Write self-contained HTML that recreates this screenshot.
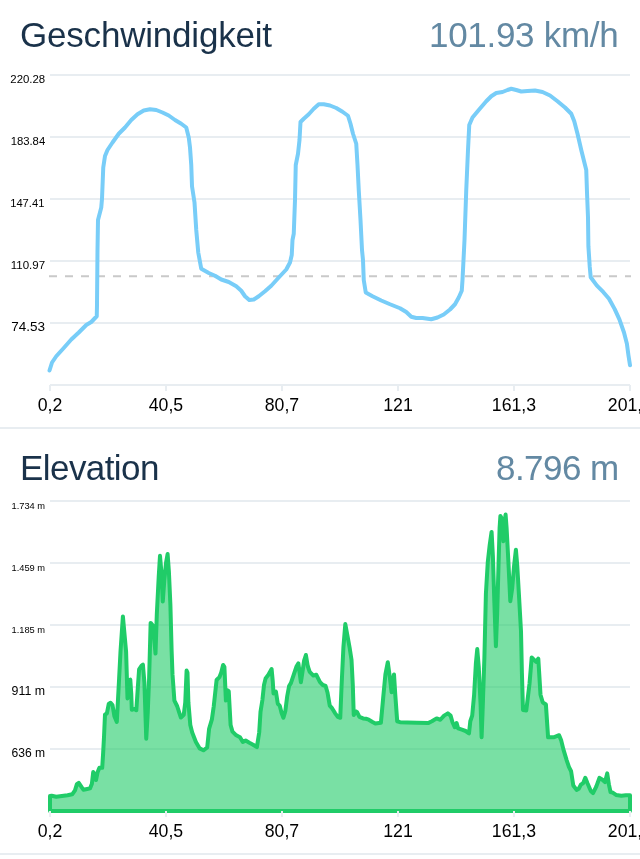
<!DOCTYPE html>
<html><head><meta charset="utf-8">
<style>
html,body{margin:0;padding:0;background:#fff;width:640px;height:859px;overflow:hidden;font-family:"Liberation Sans",sans-serif;}
.t{position:absolute;white-space:nowrap;line-height:1;}
.title{font-size:35px;color:#1a324a;}
.val{font-size:35px;color:#6389a3;}
svg{position:absolute;left:0;top:0;will-change:transform;}
.t{will-change:transform;}
</style></head><body>
<div class="t title" id="t1" style="left:19.8px;top:17px;letter-spacing:-0.2px;">Geschwindigkeit</div>
<div class="t val" id="v1" style="left:429.3px;top:17px;letter-spacing:-0.3px;">101.93 km/h</div>
<div class="t title" id="t2" style="left:20px;top:450px;letter-spacing:-0.57px;">Elevation</div>
<div class="t val" id="v2" style="left:496px;top:450px;letter-spacing:-0.55px;">8.796 m</div>
<svg width="640" height="859" viewBox="0 0 640 859">
<g stroke="#e8edf1" stroke-width="2" fill="none">
<path d="M50 75H630M50 137H630M50 199H630M50 261H630M50 323H630M50 385H630"/>
<path d="M50 385V391M166 385V391M282 385V391M398 385V391M514 385V391M630 385V391"/>
<path d="M0 428H640"/>
<path d="M50 501H630M50 563H630M50 625H630M50 687H630M50 749H630M50 811H630"/>
<path d="M0 854H640"/>
</g>
<path d="M49 276.3H631" stroke="#c9c9c9" stroke-width="2" stroke-dasharray="8 8"/>
<g font-family="Liberation Sans" fill="#000" text-anchor="end">
<text x="45.2" y="83.1" font-size="11.4">220.28</text>
<text x="45.2" y="145.2" font-size="11.3">183.84</text>
<text x="44.4" y="207" font-size="11.2">147.41</text>
<text x="45.1" y="268.8" font-size="11.5">110.97</text>
<text x="45" y="331" font-size="13.5">74.53</text>
<text x="45.1" y="508.8" font-size="9.3">1.734 m</text>
<text x="45.1" y="571.1" font-size="9.3">1.459 m</text>
<text x="45.1" y="633.3" font-size="9.3">1.185 m</text>
<text x="45.1" y="695" font-size="12.4">911 m</text>
<text x="45.1" y="756.8" font-size="12.1">636 m</text>
</g>
<g font-family="Liberation Sans" fill="#000" text-anchor="middle" font-size="17.7">
<text x="50" y="410.8">0,2</text>
<text x="166" y="410.8">40,5</text>
<text x="282" y="410.8">80,7</text>
<text x="398" y="410.8">121</text>
<text x="514" y="410.8">161,3</text>
<text x="630" y="410.8">201,6</text>
<text x="50" y="836.6">0,2</text>
<text x="166" y="836.6">40,5</text>
<text x="282" y="836.6">80,7</text>
<text x="398" y="836.6">121</text>
<text x="514" y="836.6">161,3</text>
<text x="630" y="836.6">201,6</text>
</g>
<!--SPEED--><path d="M49.5 370.5 L52 362.5 L56.25 356.25 L63.75 348 L71.25 339.5 L78.75 332.5 L86.25 325 L91.25 322 L96.75 316.25 L97 305 L97.5 250 L98 220 L101.25 207.5 L102 198.75 L103.25 167.5 L105 156 L107.5 150 L112.5 142.5 L118.75 133.75 L125 127.5 L131.25 120 L137.5 114.25 L143.75 110.5 L150 109.25 L156.25 110 L162.5 112.5 L168.75 115.5 L175 120 L181.25 123.75 L186.25 127.5 L188.75 137.5 L190 147.5 L191.25 165 L192 186.25 L194.5 202.5 L196.25 230 L198.25 252.5 L201.25 268.75 L208.75 273 L215 275.75 L221.25 279.5 L228.75 282 L236.25 286.25 L241.25 290.75 L245 296.25 L249.25 300 L253.75 299.5 L258.75 296.25 L265 291.25 L271.25 285.75 L278.75 277.5 L286.25 269.5 L290 262.5 L291.75 255 L292.5 240 L293.75 233.75 L295 200 L295.75 165 L298 153.75 L299.5 140 L300.5 122 L303.75 118.75 L308.75 114.25 L313.75 108.75 L318.75 104.25 L323.75 104.25 L330 105.5 L336.25 108 L342.5 111.75 L348 115.75 L350.5 123.75 L353 133.75 L356.25 143.75 L357.5 165 L358.75 190 L360.5 220 L362 250 L363 260 L363.75 280 L365.75 292.5 L372.5 296.25 L381.25 300.5 L390 304.25 L400 308.25 L406.25 312 L411.25 316.75 L416.25 318 L422.5 318 L431.25 319.25 L437.5 317.5 L443.75 314.5 L450 309.5 L455 304.25 L458.75 297.5 L461.75 290.75 L462.5 280 L463.75 255 L464.5 240 L466.25 190 L468 150 L469.25 125 L472.5 117.5 L478.75 110 L486.25 101.25 L491.25 96.25 L496.25 93 L502.5 92 L507.5 90 L511.25 88.75 L516.25 90 L521.25 91.5 L527.5 91 L535 90.5 L542.5 92 L550 95.5 L557.5 101.25 L565 107.5 L571.25 113.75 L574.25 121.25 L577.5 133.75 L581.25 150 L585 165 L586.25 170 L587 192.5 L588 217.5 L588.4 246.25 L589.75 266.9 L590.7 277.2 L596.9 285.6 L603.4 292.2 L609 298.75 L614.7 309.1 L619.4 319.4 L624 332.5 L626.9 343.75 L628.4 355 L630 365.3" fill="none" stroke="#78cdf8" stroke-width="4" stroke-linejoin="round" stroke-linecap="round"/><!--/SPEED-->
<!--ELEV--><path d="M50 796 L51.6 795.8 L56.25 796.8 L61.9 796 L67.5 795.2 L72.2 794.3 L75 790.3 L76.9 784.1 L78.75 782.8 L80.6 785.6 L83.4 789.75 L87.2 789 L90 788.4 L91.9 783.75 L93.2 772.1 L94.7 774.4 L96 780 L97.5 772.5 L99.4 767.8 L102.2 767.8 L103.1 753.75 L104.1 735 L105 714.4 L106.9 713.4 L108.75 704 L110.6 702.75 L112.5 705 L114.4 716.25 L116.8 721.9 L118.1 697.5 L119.1 678.75 L120.5 651.7 L122.9 616.4 L126.1 651.7 L127.5 698.4 L129 680.6 L130.3 679.7 L131.25 693.75 L131.8 709.7 L134.1 709.1 L136.3 710.25 L137.8 688.1 L139.1 669.4 L141.6 665.6 L142.9 664.7 L144.4 682.5 L146.25 738.75 L147.75 712.5 L149.1 678.75 L150.65 622.9 L153.1 625.7 L155.5 653.6 L156.8 614.5 L158.7 577.2 L160 555.8 L161.5 573.5 L162.75 601.5 L164.25 581 L166.1 562.3 L167.6 554 L168.9 571.7 L170.4 605.2 L171.6 650 L172.5 674.4 L174.4 700.6 L177.2 706.25 L179 711.9 L180.9 717.5 L183.75 714.7 L185.25 702.5 L186.6 670.6 L187.5 672.5 L188.4 702.5 L190.3 725 L192.2 732.5 L195.9 741.9 L199.7 748.4 L203.4 750.3 L207.2 747.5 L209.1 728.75 L211.9 719.4 L213.75 706.25 L216.6 680 L219.4 677.2 L221.25 672.5 L223.1 665 L224.4 666.9 L225.9 700.6 L227.25 690.3 L228.75 691.25 L230.6 725 L232.5 731.6 L236.25 735.3 L240 737.2 L242.8 741.9 L245.6 740.6 L249.4 742.8 L253.1 744.7 L256.9 747.1 L259.2 732.5 L260.5 711.9 L262.4 700 L264 685 L265.6 678.4 L268.4 674.7 L271.6 669 L272.75 681.25 L273.5 693.4 L275.9 691.6 L277.8 703.75 L279.7 705.6 L281.6 713.1 L283.4 717.8 L285.3 711.25 L287.2 696.25 L289.1 686 L290.9 683.1 L293.75 674.7 L296.6 666.25 L298.4 663.4 L299.75 673.75 L300.9 682.2 L302.2 673.75 L304.1 660.6 L305.9 655 L307.8 666.25 L309.7 671.9 L313.4 675.6 L316.25 674.7 L318.1 678.4 L320 682.2 L322.8 685 L325.6 686 L327.5 692.5 L329.75 705.6 L332.2 708.4 L335 713.1 L337.8 716.9 L340.25 717.8 L341.6 685 L343.4 647.5 L345.3 624.1 L347.2 634.4 L349.6 647.5 L351.5 659.7 L352.8 685 L353.75 715 L355.6 711.25 L357.1 712.2 L359.4 716.9 L363.1 718.4 L365.9 718.75 L368.75 719.7 L372.5 721.9 L375.3 723.4 L380.9 722.75 L383.1 698.75 L385.4 674.4 L387.8 662.2 L389.7 676.25 L391.6 692.2 L392.9 681 L394 674.4 L395.3 695 L397.2 721.25 L400 722.2 L407.5 722.4 L416.9 722.75 L428.1 723.1 L431.9 721.25 L436.6 718.4 L440.3 719.75 L444.1 715.6 L447.8 713.4 L450.6 715.6 L452.5 722.2 L454.75 727.25 L456.6 723.1 L458.1 728.4 L461.9 729.7 L465.6 731 L469 733.4 L470.3 721.25 L472.2 715.6 L474.1 695 L475.9 663.1 L477.25 649.1 L478.75 666.9 L480.6 704.4 L481.6 737.2 L482.5 713.75 L484.4 657.5 L485.9 593.75 L487.8 561.9 L489.7 545 L491.6 531.9 L492.9 556.25 L494.4 603.1 L495.9 646.25 L497.2 612.5 L498.5 565.6 L499.6 528.1 L500.4 515.9 L501.9 518.75 L503.4 541.25 L504.3 524.4 L505.6 514.6 L506.6 528.1 L508.4 561.9 L510.3 601.25 L512.2 588.1 L514.1 565.6 L515.9 549.7 L517.25 565.6 L519.1 597.5 L521 631.25 L521.9 672.8 L523 710 L526.25 710.4 L529.5 683.75 L531.7 657.5 L533.9 659.7 L536.1 661.9 L538.3 658.6 L540.5 694.7 L542.7 702.3 L545.9 704.5 L548.1 737.3 L553.6 737.3 L559.1 735.2 L561.25 740.6 L563.4 749.4 L566.7 760.3 L568.9 766.9 L571.1 771.25 L573.3 785.5 L576.6 789.9 L578.75 788.75 L581 784.4 L583.1 783.3 L585.3 777.8 L587.5 783.3 L590.8 791 L593 793.1 L596.25 786.6 L599.5 777.8 L602.8 780 L605 782.2 L607.2 773.4 L608.9 784.4 L610.5 792 L612.7 792.7 L616 794.9 L621.4 795.75 L625.8 795.3 L630 795.3 L630 811 L50 811 Z" fill="#20cc68" fill-opacity="0.6" stroke="none"/><path d="M50 796 L51.6 795.8 L56.25 796.8 L61.9 796 L67.5 795.2 L72.2 794.3 L75 790.3 L76.9 784.1 L78.75 782.8 L80.6 785.6 L83.4 789.75 L87.2 789 L90 788.4 L91.9 783.75 L93.2 772.1 L94.7 774.4 L96 780 L97.5 772.5 L99.4 767.8 L102.2 767.8 L103.1 753.75 L104.1 735 L105 714.4 L106.9 713.4 L108.75 704 L110.6 702.75 L112.5 705 L114.4 716.25 L116.8 721.9 L118.1 697.5 L119.1 678.75 L120.5 651.7 L122.9 616.4 L126.1 651.7 L127.5 698.4 L129 680.6 L130.3 679.7 L131.25 693.75 L131.8 709.7 L134.1 709.1 L136.3 710.25 L137.8 688.1 L139.1 669.4 L141.6 665.6 L142.9 664.7 L144.4 682.5 L146.25 738.75 L147.75 712.5 L149.1 678.75 L150.65 622.9 L153.1 625.7 L155.5 653.6 L156.8 614.5 L158.7 577.2 L160 555.8 L161.5 573.5 L162.75 601.5 L164.25 581 L166.1 562.3 L167.6 554 L168.9 571.7 L170.4 605.2 L171.6 650 L172.5 674.4 L174.4 700.6 L177.2 706.25 L179 711.9 L180.9 717.5 L183.75 714.7 L185.25 702.5 L186.6 670.6 L187.5 672.5 L188.4 702.5 L190.3 725 L192.2 732.5 L195.9 741.9 L199.7 748.4 L203.4 750.3 L207.2 747.5 L209.1 728.75 L211.9 719.4 L213.75 706.25 L216.6 680 L219.4 677.2 L221.25 672.5 L223.1 665 L224.4 666.9 L225.9 700.6 L227.25 690.3 L228.75 691.25 L230.6 725 L232.5 731.6 L236.25 735.3 L240 737.2 L242.8 741.9 L245.6 740.6 L249.4 742.8 L253.1 744.7 L256.9 747.1 L259.2 732.5 L260.5 711.9 L262.4 700 L264 685 L265.6 678.4 L268.4 674.7 L271.6 669 L272.75 681.25 L273.5 693.4 L275.9 691.6 L277.8 703.75 L279.7 705.6 L281.6 713.1 L283.4 717.8 L285.3 711.25 L287.2 696.25 L289.1 686 L290.9 683.1 L293.75 674.7 L296.6 666.25 L298.4 663.4 L299.75 673.75 L300.9 682.2 L302.2 673.75 L304.1 660.6 L305.9 655 L307.8 666.25 L309.7 671.9 L313.4 675.6 L316.25 674.7 L318.1 678.4 L320 682.2 L322.8 685 L325.6 686 L327.5 692.5 L329.75 705.6 L332.2 708.4 L335 713.1 L337.8 716.9 L340.25 717.8 L341.6 685 L343.4 647.5 L345.3 624.1 L347.2 634.4 L349.6 647.5 L351.5 659.7 L352.8 685 L353.75 715 L355.6 711.25 L357.1 712.2 L359.4 716.9 L363.1 718.4 L365.9 718.75 L368.75 719.7 L372.5 721.9 L375.3 723.4 L380.9 722.75 L383.1 698.75 L385.4 674.4 L387.8 662.2 L389.7 676.25 L391.6 692.2 L392.9 681 L394 674.4 L395.3 695 L397.2 721.25 L400 722.2 L407.5 722.4 L416.9 722.75 L428.1 723.1 L431.9 721.25 L436.6 718.4 L440.3 719.75 L444.1 715.6 L447.8 713.4 L450.6 715.6 L452.5 722.2 L454.75 727.25 L456.6 723.1 L458.1 728.4 L461.9 729.7 L465.6 731 L469 733.4 L470.3 721.25 L472.2 715.6 L474.1 695 L475.9 663.1 L477.25 649.1 L478.75 666.9 L480.6 704.4 L481.6 737.2 L482.5 713.75 L484.4 657.5 L485.9 593.75 L487.8 561.9 L489.7 545 L491.6 531.9 L492.9 556.25 L494.4 603.1 L495.9 646.25 L497.2 612.5 L498.5 565.6 L499.6 528.1 L500.4 515.9 L501.9 518.75 L503.4 541.25 L504.3 524.4 L505.6 514.6 L506.6 528.1 L508.4 561.9 L510.3 601.25 L512.2 588.1 L514.1 565.6 L515.9 549.7 L517.25 565.6 L519.1 597.5 L521 631.25 L521.9 672.8 L523 710 L526.25 710.4 L529.5 683.75 L531.7 657.5 L533.9 659.7 L536.1 661.9 L538.3 658.6 L540.5 694.7 L542.7 702.3 L545.9 704.5 L548.1 737.3 L553.6 737.3 L559.1 735.2 L561.25 740.6 L563.4 749.4 L566.7 760.3 L568.9 766.9 L571.1 771.25 L573.3 785.5 L576.6 789.9 L578.75 788.75 L581 784.4 L583.1 783.3 L585.3 777.8 L587.5 783.3 L590.8 791 L593 793.1 L596.25 786.6 L599.5 777.8 L602.8 780 L605 782.2 L607.2 773.4 L608.9 784.4 L610.5 792 L612.7 792.7 L616 794.9 L621.4 795.75 L625.8 795.3 L630 795.3 L630 811 L50 811 Z" fill="none" stroke="#20cc68" stroke-width="4" stroke-linejoin="round"/><!--/ELEV-->
<path d="M50 811V817M166 811V817M282 811V817M398 811V817M514 811V817M630 811V817" stroke="#eaeef2" stroke-width="2"/>
</svg>
</body></html>
